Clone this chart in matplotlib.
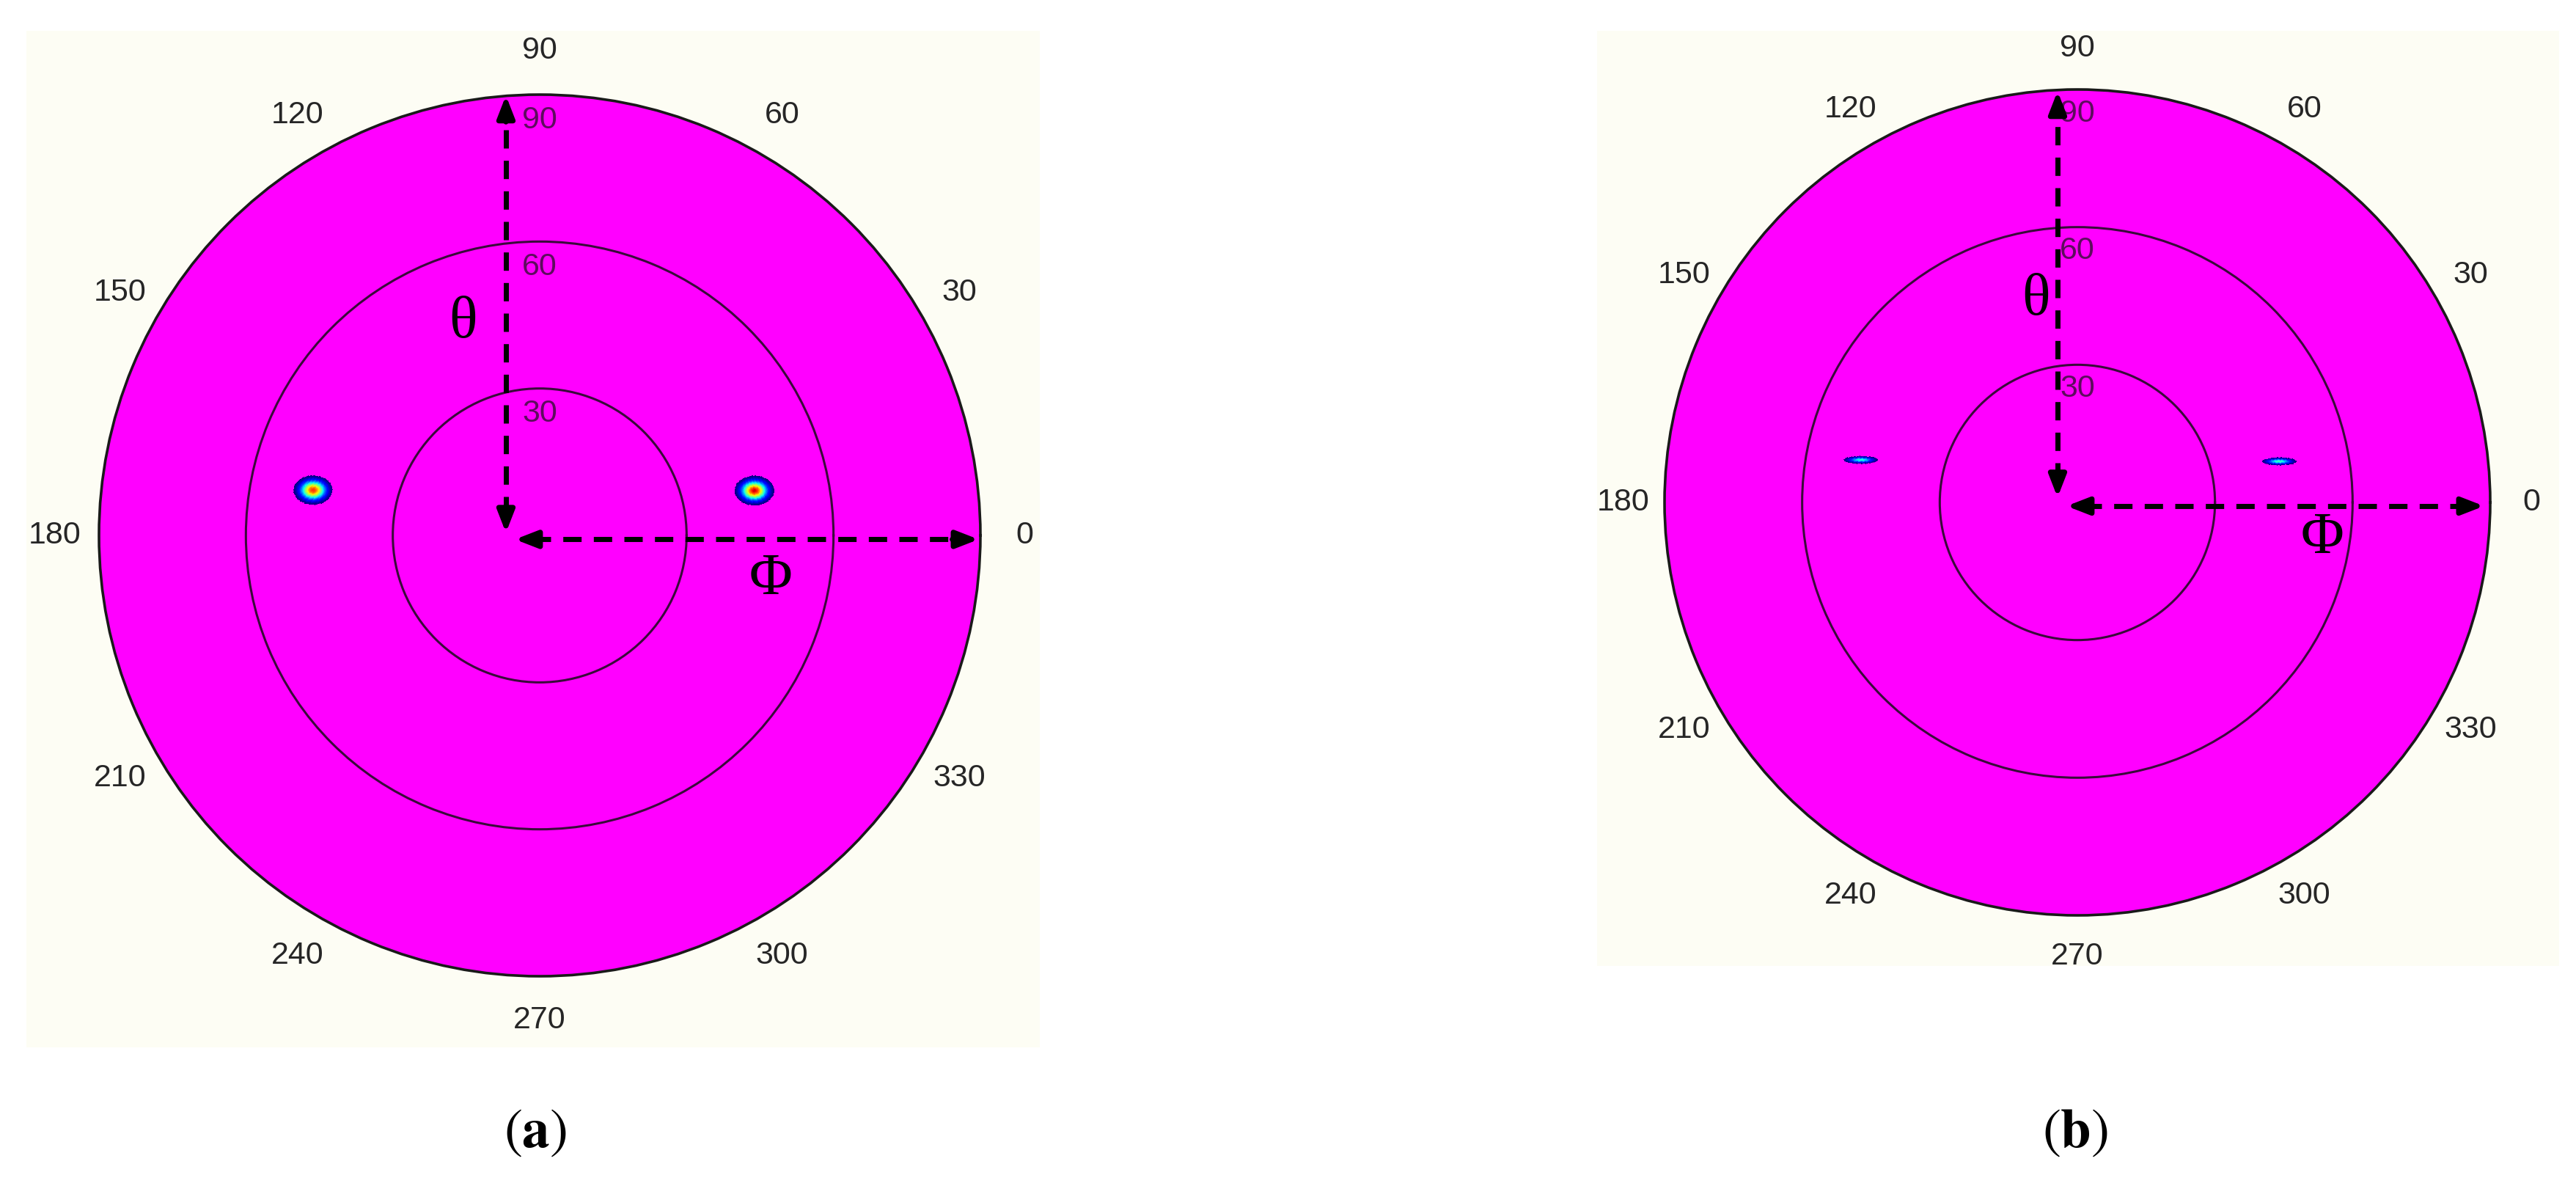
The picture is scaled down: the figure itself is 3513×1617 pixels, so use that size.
import numpy as np
import matplotlib
matplotlib.use("Agg")
import matplotlib.pyplot as plt
from matplotlib.patches import Rectangle
from matplotlib.lines import Line2D
from matplotlib.colors import Normalize

# ---------------- data ----------------
phi_ticks = [0, 30, 60, 90, 120, 150, 180, 210, 240, 270, 300, 330]
phi_ticklabels = ["0", "30", "60", "90", "120", "150", "180", "210",
                  "240", "270", "300", "330"]
theta_rings = [30, 60]
theta_ring_labels = ["30", "60", "90"]
theta_ring_label_pos = [30, 60, 90]
theta_max = 90

# emission spots (theta in deg, phi in deg, relative peak, widths in deg)
spots_a_theta = [44.8, 47.2]
spots_a_phi = [11.8, 168.7]
spots_a_peak = [0.93, 0.86]
spots_a_sigx = [1.6, 1.6]
spots_a_sigy = [1.2, 1.2]

spots_b_theta = [44.9, 48.1]
spots_b_phi = [11.5, 168.9]
spots_b_peak = [0.45, 0.42]
spots_b_sigx = [1.7, 1.7]
spots_b_sigy = [0.38, 0.38]

captions = ["a", "b"]

# ---------------- layout (pixels of the 3513x1617 canvas) ----------------
W, H, DPI = 3513, 1617, 200
CREAM = "#fdfdf4"
MAGENTA = "#ff00ff"

panels = [
    dict(cx=736, cy=730, R=601, cream=(36, 42, 1418, 1428),
         theta=spots_a_theta, phi=spots_a_phi, peak=spots_a_peak,
         sx=spots_a_sigx, sy=spots_a_sigy,
         vline=(0.4617, 0.503, 0.999), hline=(0.4955, 0.472, 0.998),
         tlab=(0.413, 0.741), plab=(0.762, 0.450), cap_x=730),
    dict(cx=2833, cy=685, R=563, cream=(2178, 42, 3490, 1317),
         theta=spots_b_theta, phi=spots_b_phi, peak=spots_b_peak,
         sx=spots_b_sigx, sy=spots_b_sigy,
         vline=(0.476, 0.506, 0.998), hline=(0.4956, 0.487, 0.9925),
         tlab=(0.450, 0.745), plab=(0.797, 0.456), cap_x=2830),
]


def fig_box(x0, y0, x1, y1):
    return [x0 / W, 1 - y1 / H, (x1 - x0) / W, (y1 - y0) / H]


fig = plt.figure(figsize=(W / DPI, H / DPI), dpi=DPI, facecolor="white")

cmap = plt.get_cmap("jet").copy()
cmap.set_bad((0, 0, 0, 0))
thr = 0.04

for p in panels:
    # cream panel background
    b = fig_box(*p["cream"])
    fig.add_artist(Rectangle((b[0], b[1]), b[2], b[3], transform=fig.transFigure,
                             facecolor=CREAM, edgecolor="none", zorder=-5))

    cx, cy, R = p["cx"], p["cy"], p["R"]
    ax = fig.add_axes(fig_box(cx - R, cy - R, cx + R, cy + R), projection="polar")
    ax.set_facecolor(MAGENTA)
    ax.set_ylim(0, theta_max)
    ax.set_xticks([])
    ax.set_yticks(theta_rings)
    ax.set_yticklabels([])
    ax.yaxis.grid(True, color="#3a0a3a", linewidth=1.1, linestyle="-")
    ax.spines["polar"].set_color("#1a1a1a")
    ax.spines["polar"].set_linewidth(1.3)

    # spot intensity field
    PH, RR = np.meshgrid(np.linspace(0, 2 * np.pi, 1801), np.linspace(25, 70, 481))
    X = RR * np.cos(PH)
    Y = RR * np.sin(PH)
    Z = np.zeros_like(X)
    for th, ph, pk, sx, sy in zip(p["theta"], p["phi"], p["peak"], p["sx"], p["sy"]):
        x0 = th * np.cos(np.radians(ph))
        y0 = th * np.sin(np.radians(ph))
        Z += pk * np.exp(-0.5 * ((X - x0) / sx) ** 2 - 0.5 * ((Y - y0) / sy) ** 2)
    Zm = np.ma.masked_less(Z, thr)
    ax.pcolormesh(PH, RR, Zm, cmap=cmap, norm=Normalize(vmin=thr, vmax=1.0),
                  shading="nearest", antialiased=False, zorder=1)

    # angular labels outside
    for ang, lab in zip(phi_ticks, phi_ticklabels):
        ax.text(np.radians(ang), theta_max * 1.10, lab, ha="center", va="center",
                fontsize=15.5, family="Liberation Sans", color="#262626")
    # ring labels inside
    for rpos, lab in zip(theta_ring_label_pos, theta_ring_labels):
        ax.text(np.pi / 2, rpos - 5.2, lab, ha="center", va="center",
                fontsize=15.5, family="Liberation Sans", color="#5e0c5e",
                zorder=3, transform=ax.transData)

    # dashed axis arrows (annotations)
    vx, vy0, vy1 = p["vline"]
    hy, hx0, hx1 = p["hline"]
    lw = 2.5
    for xs, ys in (([vx, vx], [vy0 + 0.02, vy1 - 0.02]), ([hx0 + 0.02, hx1 - 0.02], [hy, hy])):
        ax.add_line(Line2D(xs, ys, transform=ax.transAxes, color="black", lw=lw,
                           dashes=(3.6, 2.4), zorder=4, clip_on=False))
    head = dict(arrowstyle="-|>,head_length=0.9,head_width=0.35", color="black",
                lw=lw, shrinkA=0, shrinkB=0)
    ax.annotate("", xy=(vx, vy1), xytext=(vx, vy1 - 0.03), xycoords="axes fraction",
                arrowprops=head, zorder=5)
    ax.annotate("", xy=(vx, vy0), xytext=(vx, vy0 + 0.03), xycoords="axes fraction",
                arrowprops=head, zorder=5)
    ax.annotate("", xy=(hx1, hy), xytext=(hx1 - 0.03, hy), xycoords="axes fraction",
                arrowprops=head, zorder=5)
    ax.annotate("", xy=(hx0, hy), xytext=(hx0 + 0.03, hy), xycoords="axes fraction",
                arrowprops=head, zorder=5)

    ax.text(p["tlab"][0], p["tlab"][1], "θ", transform=ax.transAxes, ha="center",
            va="center", fontsize=29, family="Liberation Serif", color="black", zorder=6)
    ax.text(p["plab"][0], p["plab"][1], "Φ", transform=ax.transAxes, ha="center",
            va="center", fontsize=29, family="Liberation Serif", color="black", zorder=6)

plt.rcParams["mathtext.fontset"] = "stix"
for p, cap in zip(panels, captions):
    fig.text(p["cap_x"] / W, 1 - 1543 / H, r"$(\mathbf{" + cap + r"})$", ha="center",
             va="center", fontsize=27, color="black")

fig.savefig("out.png", dpi=DPI, facecolor="white")
